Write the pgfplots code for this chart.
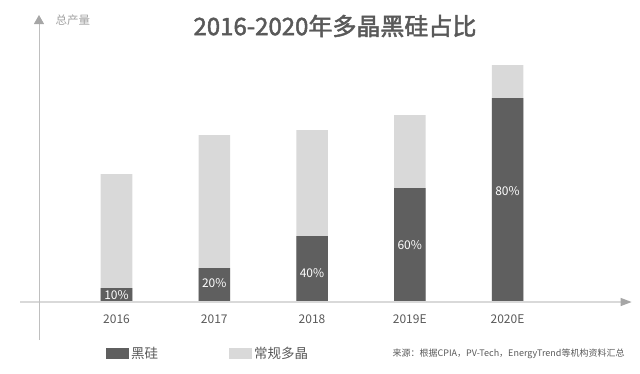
\documentclass[border=0pt]{standalone}
\usepackage{pgfplots}
\pgfplotsset{compat=1.18}
\usepackage{pgfplotstable}
\usepackage{fontspec}
\setmainfont{Noto Sans CJK SC}
\newfontfamily\titlefont{Noto Sans CJK SC}[FakeBold=2]
\usetikzlibrary{arrows.meta}
\definecolor{darkc}{HTML}{5F5F5F}
\definecolor{lightc}{HTML}{D9D9D9}
\definecolor{txt}{HTML}{595959}
\definecolor{axc}{HTML}{D9D9D9}
\definecolor{yaxc}{HTML}{BFBFBF}
\definecolor{arr}{HTML}{A6A6A6}
\definecolor{ylab}{HTML}{A0A0A0}

\pgfplotstableread{
x dark total ly lab
0 14  128 7   10
1 34  167 19  20
2 66  172 29  40
3 114 187 57  60
4 204 237 111 80
}\data

\begin{document}
\begin{tikzpicture}
\begin{axis}[
  x=97.75pt, y=1pt,
  xmin=-0.987, xmax=5.27, ymin=0, ymax=290,
  clip=false,
  axis line style={draw=none},
  tick style={draw=none},
  ytick=\empty,
  xtick={0,1,2,3,4},
  xticklabels={2016,2017,2018,2019E,2020E},
  xticklabel style={font=\fontsize{12}{14}\selectfont, text=txt, yshift=-9pt},
  /pgf/number format/assume math mode=true,
  legend image code/.code={\fill[#1] (0pt,-5.5pt) rectangle (23pt,5.5pt);},
  legend style={at={(0.1356,-0.1414)}, anchor=north west, draw=none, fill=none,
    legend columns=2, font=\fontsize{13.5}{16}\selectfont, text=txt,
    /tikz/every even column/.append style={column sep=69pt}},
]
\addplot[ybar, bar width=31.5pt, bar shift=0pt, fill=lightc, draw=none, forget plot]
  table[x=x, y=total]{\data};
\addplot[ybar, bar width=31.5pt, bar shift=0pt, fill=darkc, draw=none, forget plot]
  table[x=x, y=dark]{\data};
\addplot[draw=none, mark=none, forget plot,
  point meta=explicit,
  nodes near coords={\pgfmathprintnumber{\pgfplotspointmeta}\%},
  every node near coord/.style={anchor=center, text=white, font=\fontsize{12}{14}\selectfont}]
  table[x=x, y=ly, meta=lab]{\data};

\addlegendimage{fill=darkc, draw=none}
\addlegendentry{黑硅}
\addlegendimage{fill=lightc, draw=none}
\addlegendentry{常规多晶}

\draw[axc, line width=1.2pt, -{Triangle[width=8pt,length=11pt,color=arr]}]
  (axis cs:-0.987,0) -- (axis cs:5.27,0);
\draw[yaxc, line width=0.9pt, -{Triangle[width=10pt,length=9pt,color=arr]}]
  (axis cs:-0.793,-38) -- (axis cs:-0.793,287);

\node[anchor=west, font=\fontsize{11.5}{13}\selectfont, text=ylab] at (axis cs:-0.66,282) {总产量};
\node[font=\titlefont\fontsize{24}{28}\selectfont, text=txt] at (axis cs:2.235,276) {2016-2020年多晶黑硅占比};
\node[anchor=east, font=\fontsize{9}{11}\selectfont, text=txt] at (axis cs:5.233,-52) {来源：根据CPIA，PV-Tech，EnergyTrend等机构资料汇总};

\coordinate (bl) at (axis cs:-1.1918,-71);
\coordinate (tr) at (axis cs:5.3555,302);
\end{axis}
\path[use as bounding box] (bl) rectangle (tr);
\end{tikzpicture}
\end{document}
